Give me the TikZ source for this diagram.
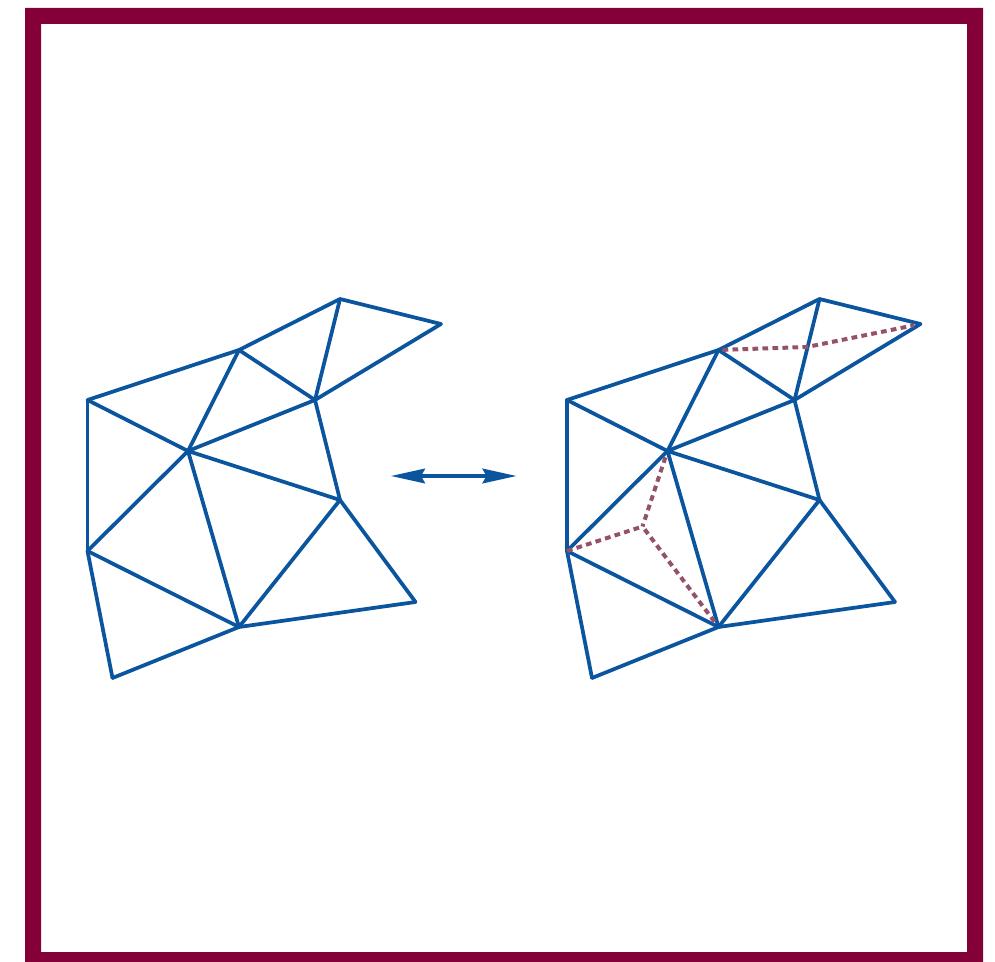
\documentclass[tikz,border=0pt]{standalone}
\usetikzlibrary{arrows.meta}
\definecolor{framered}{HTML}{830039}
\definecolor{meshblue}{HTML}{0B559F}
\definecolor{flipred}{HTML}{95506A}
\tikzset{
  edge/.style={draw=meshblue, line width=2.8pt, line cap=round, line join=round},
  flip/.style={draw=flipred, line width=3pt, dash pattern=on 4.3pt off 3.2pt},
  swap/.style={draw=meshblue, line width=2.5pt, {Stealth[length=25.5pt,width=11pt,inset=3pt]}-{Stealth[length=25.5pt,width=11pt,inset=3pt]}}
}
\begin{document}
\begin{tikzpicture}[x=0.75pt,y=-0.75pt]
\useasboundingbox (0,0) rectangle (995,962);
\fill[framered,even odd rule] (25,8) rectangle (983,962) (41,24) rectangle (967,952);
% the two meshes
\foreach \side/\shift in {l/0,r/479.5}{
  \begin{scope}[xshift=\shift*0.75pt,name prefix=\side]
    \coordinate (a) at (87.5,400);
    \coordinate (b) at (239,350);
    \coordinate (c) at (340,299);
    \coordinate (d) at (441,324);
    \coordinate (e) at (315,400);
    \coordinate (f) at (188,451);
    \coordinate (g) at (340,500);
    \coordinate (h) at (87.5,551);
    \coordinate (i) at (239,627);
    \coordinate (j) at (415.5,602);
    \coordinate (k) at (112.5,678);
  \end{scope}
  \foreach \u/\v in {a/b,b/c,c/d,d/e,c/e,b/e,b/f,e/f,a/f,a/h,f/h,f/g,e/g,f/i,h/i,g/i,g/j,i/j,h/k,k/i}
    \draw[edge] (\side\u) -- (\side\v);
}
% flipped edges
\coordinate (rm) at (642.5,526.5);
\coordinate (rn) at (807,347);
\draw[flip,shorten <=3pt,shorten >=5pt] (rb) -- (rn) -- (rd);
\draw[flip,shorten <=5pt] (rf) -- (rm);
\draw[flip] (rh) -- (rm);
\draw[flip,shorten <=5pt] (ri) -- (rm);
% double arrow
\coordinate (swapl) at (391,476);
\coordinate (swapr) at (516.5,476);
\draw[swap] (swapl) -- (swapr);
\end{tikzpicture}
\end{document}
